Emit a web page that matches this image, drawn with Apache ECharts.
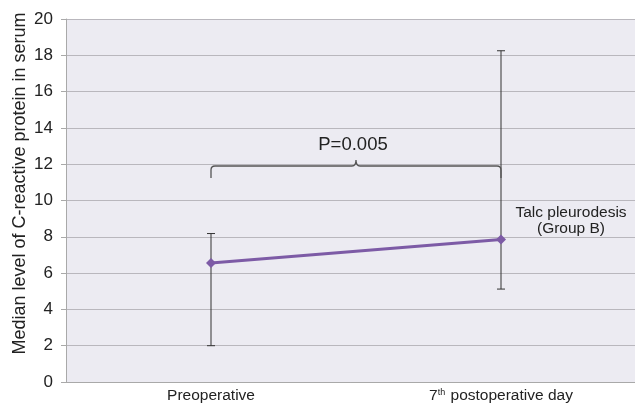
<!DOCTYPE html>
<html><head><meta charset="utf-8">
<script src="https://cdn.jsdelivr.net/npm/echarts@6/dist/echarts.min.js"></script>
<style>html,body{margin:0;padding:0;background:#fff}#c{width:635px;height:405px}</style>
</head><body><div id="c"></div>
<script>
const categories = ['Preoperative', '7th postoperative day'];
const medians = [6.56, 7.85];
const errLow = [2.0, 5.12];
const errHigh = [8.18, 18.25];
const yTicks = [0, 2, 4, 6, 8, 10, 12, 14, 16, 18, 20];
const braceLevel = 11.9;
const pLabel = 'P=0.005';
const groupLabel = 'Talc pleurodesis\n(Group B)';

const chart = echarts.init(document.getElementById('c'), null, {renderer: 'canvas'});
const font = 'Liberation Sans, Arial, Helvetica, sans-serif';

chart.setOption({
  animation: false,
  textStyle: {fontFamily: font},
  grid: {left: 66, top: 19, width: 580, height: 363, show: true, backgroundColor: '#ecebf2', borderWidth: 0, containLabel: false, outerBoundsMode: 'none'},
  xAxis: {
    type: 'category', data: categories, boundaryGap: true,
    axisLine: {lineStyle: {color: '#a9a9a9', width: 1}},
    axisTick: {show: false},
    axisLabel: {
      color: '#222', fontSize: 15.5, margin: 6, fontFamily: font,
      formatter: v => v.startsWith('7th') ? '{n|7}{s|th}{n| postoperative day}' : v,
      rich: {n: {fontSize: 15.5, color: '#222', fontFamily: font}, s: {fontSize: 9, color: '#222', verticalAlign: 'top', padding: [0, 1, 7, 0], fontFamily: font}}
    }
  },
  yAxis: {
    type: 'value', min: 0, max: 20, interval: 2,
    name: 'Median level of C-reactive protein in serum',
    nameLocation: 'middle', nameGap: 37, nameRotate: 90, nameMoveOverlap: false,
    nameTextStyle: {fontSize: 18, color: '#222', fontFamily: font, padding: [0, 0, 0, 34]},
    axisLine: {show: true, lineStyle: {color: '#a9a9a9'}},
    axisTick: {show: true, length: 5, lineStyle: {color: '#a9a9a9'}},
    axisLabel: {fontSize: 17, color: '#222', margin: 13, fontFamily: font},
    splitLine: {lineStyle: {color: '#b9b7bd', width: 1}}
  },
  series: [
    {
      type: 'custom',
      name: 'error',
      data: categories.map((c, i) => [i, errLow[i], errHigh[i]]),
      renderItem: (params, api) => {
        const x = api.value(0);
        const lo = api.coord([x, api.value(1)]);
        const hi = api.coord([x, api.value(2)]);
        const cap = 4;
        const st = {stroke: '#333', lineWidth: 1};
        return {type: 'group', children: [
          {type: 'line', shape: {x1: lo[0], y1: lo[1], x2: hi[0], y2: hi[1]}, style: st},
          {type: 'line', shape: {x1: lo[0] - cap, y1: lo[1], x2: lo[0] + cap, y2: lo[1]}, style: st},
          {type: 'line', shape: {x1: hi[0] - cap, y1: hi[1], x2: hi[0] + cap, y2: hi[1]}, style: st}
        ]};
      },
      z: 2
    },
    {
      type: 'line',
      data: medians,
      symbol: 'diamond', symbolSize: 10,
      lineStyle: {color: '#7d5ba6', width: 3},
      itemStyle: {color: '#7d5ba6'},
      z: 3
    },
    {
      type: 'custom',
      name: 'brace',
      data: [[0, 1, braceLevel]],
      renderItem: (params, api) => {
        const a = api.coord([api.value(0), api.value(2)]);
        const b = api.coord([api.value(1), api.value(2)]);
        const y = a[1];
        const mid = (a[0] + b[0]) / 2;
        const r = 4, drop = 12, up = 6;
        const path = `M${a[0]} ${y + drop} L${a[0]} ${y + r} Q${a[0]} ${y} ${a[0] + r} ${y} ` +
          `L${mid - r} ${y} Q${mid} ${y} ${mid} ${y - up} Q${mid} ${y} ${mid + r} ${y} ` +
          `L${b[0] - r} ${y} Q${b[0]} ${y} ${b[0]} ${y + r} L${b[0]} ${y + drop}`;
        return {type: 'group', children: [
          {type: 'path', shape: {pathData: path}, style: {stroke: '#555', lineWidth: 1.3, fill: null}},
          {type: 'text', x: mid - 3, y: y - 21, style: {text: pLabel, fill: '#222', font: '18.5px ' + font, textAlign: 'center', textVerticalAlign: 'middle'}}
        ]};
      },
      z: 4
    }
  ],
  graphic: [
    {type: 'text', x: 571, y: 205, style: {text: groupLabel, fill: '#222', font: '15.5px ' + font, textAlign: 'center', lineHeight: 16}}
  ]
});
</script>
</body></html>
